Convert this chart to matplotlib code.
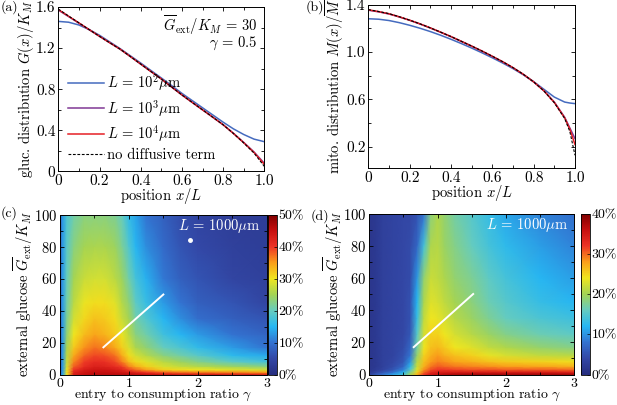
import numpy as np
import matplotlib
matplotlib.use('Agg')
import matplotlib.pyplot as plt
from matplotlib.colors import LinearSegmentedColormap

plt.rcParams['font.family'] = 'serif'
plt.rcParams['font.serif'] = ['cmr10', 'DejaVu Serif']
plt.rcParams['mathtext.fontset'] = 'cm'
plt.rcParams['axes.formatter.use_mathtext'] = True
FS = 11      # tick labels
LFS = 10.5   # axis labels and annotations
PFS = 10     # panel letters
plt.rcParams['font.size'] = FS

# ---- data: panel (a) glucose profiles
xs = [0, 0.05, 0.1, 0.15, 0.2, 0.25, 0.3, 0.35, 0.4, 0.45, 0.5,
      0.55, 0.6, 0.65, 0.7, 0.75, 0.8, 0.85, 0.9, 0.95, 1.0]
gluc_L100 = [1.46, 1.452, 1.425, 1.38, 1.325, 1.26, 1.195, 1.125, 1.055, 0.982, 0.91,
             0.836, 0.76, 0.69, 0.62, 0.55, 0.48, 0.415, 0.36, 0.315, 0.29]
gluc_L1000 = [1.57, 1.507, 1.443, 1.379, 1.315, 1.252, 1.19, 1.118, 1.045, 0.972, 0.90,
              0.822, 0.745, 0.672, 0.60, 0.528, 0.455, 0.372, 0.283, 0.19, 0.08]
gluc_L10000 = [1.575, 1.51, 1.445, 1.38, 1.315, 1.252, 1.19, 1.118, 1.045, 0.972, 0.90,
               0.822, 0.745, 0.672, 0.60, 0.528, 0.455, 0.37, 0.28, 0.185, 0.07]
gluc_nodiff = [1.58, 1.512, 1.446, 1.38, 1.315, 1.252, 1.19, 1.118, 1.045, 0.972, 0.90,
               0.822, 0.745, 0.672, 0.60, 0.528, 0.455, 0.37, 0.278, 0.18, 0.05]

# ---- data: panel (b) mitochondria profiles
xs_b = [0, 0.05, 0.1, 0.15, 0.2, 0.25, 0.3, 0.35, 0.4, 0.45, 0.5,
        0.55, 0.6, 0.65, 0.7, 0.75, 0.8, 0.85, 0.9, 0.95, 0.975, 1.0]
mito_L100 = [1.28, 1.276, 1.265, 1.247, 1.225, 1.2, 1.172, 1.141, 1.107, 1.071, 1.033,
             0.993, 0.951, 0.907, 0.86, 0.808, 0.75, 0.685, 0.62, 0.578, 0.57, 0.565]
mito_L1000 = [1.352, 1.338, 1.32, 1.295, 1.267, 1.236, 1.202, 1.166, 1.129, 1.089, 1.049,
              1.007, 0.963, 0.917, 0.867, 0.811, 0.748, 0.673, 0.578, 0.45, 0.36, 0.27]
mito_L10000 = [1.355, 1.34, 1.322, 1.296, 1.268, 1.237, 1.203, 1.167, 1.13, 1.09, 1.05,
               1.008, 0.964, 0.918, 0.868, 0.812, 0.748, 0.672, 0.575, 0.445, 0.35, 0.22]
mito_nodiff = [1.357, 1.341, 1.323, 1.297, 1.268, 1.237, 1.203, 1.167, 1.13, 1.09, 1.05,
               1.008, 0.964, 0.918, 0.868, 0.812, 0.748, 0.671, 0.572, 0.44, 0.33, 0.13]

# ---- data: heatmaps (values in %), rows = G_ext/K_M, columns = gamma
G_grid = [0, 1.5, 3, 5, 8, 12, 17, 25, 35, 45, 60, 80, 100]
gam_c = [0, 0.04, 0.1, 0.2, 0.35, 0.5, 0.65, 0.8, 0.9, 1.0, 1.1, 1.25, 1.5, 1.75, 2.0, 2.5, 3.0]
cols_c = [
    [10, 9, 8, 8, 8, 8, 8, 8, 8, 8, 8, 8, 8],
    [14, 13, 13, 13, 13, 13, 13, 13, 13, 13, 13, 13, 13],
    [30, 30, 29.5, 28.5, 27.5, 26.5, 25.5, 23.5, 22, 21, 20, 19, 18],
    [43, 42, 40, 38, 36, 34, 32, 30, 28, 26.5, 25, 23, 21],
    [45, 44, 43, 41, 39.5, 37.5, 35.5, 33, 31, 29.5, 27.5, 25, 23],
    [46, 45, 44, 42.5, 41, 39, 37, 34.5, 32.5, 30.5, 28, 25.5, 23],
    [46, 45, 44, 42, 40.5, 38.5, 36, 33.5, 32, 30.5, 28, 25.5, 23],
    [46, 44.5, 43, 41, 39, 37, 34, 32, 30.5, 29, 26.5, 24.5, 22],
    [46, 44, 42, 39.5, 36.5, 34, 31.5, 29.5, 27.5, 26, 24.5, 22, 20],
    [46, 43, 39.5, 36.5, 33, 30.5, 28.5, 26.5, 25, 23.5, 21, 18.5, 16],
    [45.5, 42, 37.5, 34, 31, 28, 25.5, 23, 21, 19.5, 17.5, 15, 13.5],
    [45, 40, 35, 31.5, 29, 26, 23.5, 21, 18.5, 16.5, 14.5, 12, 10],
    [44.5, 38, 31.5, 28.5, 26.5, 23, 20, 17, 15, 13, 10.5, 9, 8],
    [44, 37, 30.5, 27, 24.5, 21, 18, 15, 12, 10, 8, 6.5, 5.5],
    [44, 36.5, 30, 26, 22.5, 19, 16, 13, 9.5, 8, 6.5, 5.2, 4.3],
    [43.5, 36, 29, 24.5, 19.5, 15.5, 13, 10, 8, 6.5, 4.5, 3.8, 3.3],
    [43, 35, 28, 23, 17.5, 14, 10, 8.5, 6.5, 4.5, 3.8, 3.2, 3],
]
gam_d = [0, 0.1, 0.2, 0.35, 0.5, 0.6, 0.7, 0.8, 0.9, 1.0, 1.1, 1.25, 1.5, 1.75, 2.0, 2.5, 3.0]
cols_d = [
    [3, 2, 1.5, 1.5, 1.5, 1.5, 1.5, 1.5, 1.5, 1.5, 1.5, 1.5, 1.5],
    [6, 4, 2.5, 2, 2, 2, 2, 2, 2, 2, 2, 2, 2],
    [8, 5.5, 3.5, 3, 3, 3, 3, 3, 3, 3, 3, 3, 3],
    [11, 8, 5.5, 4.5, 4, 3.5, 3.5, 3.5, 3.5, 3.5, 3.5, 3.5, 3.5],
    [14, 12, 9, 7, 5.5, 5, 4.5, 4, 4, 4, 4, 4, 4],
    [20, 18, 15, 12.5, 10, 8, 7, 5.5, 5, 5, 4.5, 4.5, 4],
    [27, 25, 23, 22, 21, 19, 17, 15, 13, 12, 10, 7, 5],
    [32, 30, 28.5, 27, 26, 25, 24, 22.5, 21.5, 20.5, 19, 14, 8],
    [35, 33, 31, 29.5, 28, 27, 26, 25, 24, 23, 22, 20.5, 18.5],
    [36, 34, 32, 30.5, 29, 28, 26.5, 25, 23.5, 22.5, 21.5, 21, 20.5],
    [37, 34.5, 32, 30, 28.5, 27, 25.5, 24, 22.5, 21.5, 20.5, 19.5, 19],
    [37.5, 34.5, 31.5, 29.5, 27.5, 26, 24, 22.5, 21, 20, 19, 18, 17],
    [38, 34.5, 31, 29, 27, 25, 23, 21, 19.5, 18.5, 17.5, 16, 15],
    [38, 34.5, 31, 28.5, 26, 23.5, 21.5, 19.5, 17.5, 16.5, 15.5, 14, 13],
    [38, 34.5, 30.5, 28, 25.5, 22.5, 20.5, 18, 16, 15, 14, 12.5, 11],
    [38, 34.5, 30.5, 27.5, 25, 21.5, 19, 16.5, 14.5, 13, 12, 10.5, 9],
    [38, 34, 30, 27, 24.5, 21, 18, 15.5, 13.5, 12, 10.5, 9, 7.5],
]
# white guide lines and dot
line_c_gam, line_c_G = [0.63, 1.5], [17, 50]
line_d_gam, line_d_G = [0.65, 1.52], [17, 50]
dot_c_gam, dot_c_G = [1.88], [84]

cbar_ticks_c = [0, 10, 20, 30, 40, 50]
cbar_ticks_d = [0, 10, 20, 30, 40]

cmap = LinearSegmentedColormap.from_list('jetlike', [
    (0.0, (0.15, 0.18, 0.50)),
    (0.1, (0.20, 0.28, 0.65)),
    (0.2, (0.20, 0.45, 0.82)),
    (0.3, (0.15, 0.72, 0.95)),
    (0.4, (0.40, 0.80, 0.75)),
    (0.5, (0.64, 0.83, 0.33)),
    (0.6, (0.94, 0.90, 0.12)),
    (0.7, (0.98, 0.62, 0.10)),
    (0.8, (0.93, 0.20, 0.15)),
    (0.9, (0.78, 0.06, 0.06)),
    (1.0, (0.50, 0.0, 0.0))])

c_blue = (0.27, 0.42, 0.75)
c_purple = (0.50, 0.22, 0.58)
c_red = (0.90, 0.12, 0.15)

W, H = 617, 405
fig = plt.figure(figsize=(W / 100, H / 100), dpi=100)

def px_axes(l, t, r, b):
    return fig.add_axes([l / W, 1 - b / H, (r - l) / W, (b - t) / H])

def style(ax, size=FS):
    ax.tick_params(direction='in', which='both', top=True, right=True,
                   length=3, width=0.6, labelsize=size, pad=2)
    ax.tick_params(which='minor', length=2)
    for s in ax.spines.values():
        s.set_linewidth(0.7)

# (a)
ax = px_axes(58.3, 7, 264.3, 171.5)
ax.plot(xs, gluc_L100, color=c_blue, lw=1.1, label=r'$L\,=\,10^2\mu$m')
ax.plot(xs, gluc_L1000, color=c_purple, lw=1.1, label=r'$L\,=\,10^3\mu$m')
ax.plot(xs, gluc_L10000, color=c_red, lw=1.1, label=r'$L\,=\,10^4\mu$m')
ax.plot(xs, gluc_nodiff, color='k', lw=0.8, ls=(0, (2.5, 1.5)), label='no diffusive term')
ax.set_xlim(0, 1)
ax.set_ylim(0, 1.6)
ax.set_xticks(np.arange(0, 1.01, 0.2))
ax.set_xticklabels(['0', '0.2', '0.4', '0.6', '0.8', '1.0'])
ax.set_xticks(np.arange(0, 1.01, 0.1), minor=True)
ax.set_yticks([0, 0.4, 0.8, 1.2, 1.6])
ax.set_yticklabels(['0', '0.4', '0.8', '1.2', '1.6'])
ax.set_yticks(np.arange(0, 1.61, 0.2), minor=True)
style(ax)
ax.set_xlabel(r'position $x/L$', labelpad=-1.5, fontsize=LFS)
ax.set_ylabel(r'gluc. distribution $G(x)/K_M$', labelpad=0, fontsize=LFS)
ax.text(0.965, 0.89, r'$\overline{G}_{\rm ext}/K_M\,=\,30$', transform=ax.transAxes,
        ha='right', va='center', fontsize=LFS)
ax.text(0.965, 0.78, r'$\gamma\,=\,0.5$', transform=ax.transAxes,
        ha='right', va='center', fontsize=LFS)
ax.legend(loc='lower left', bbox_to_anchor=(0.0, 0.0), frameon=False,
          handlelength=2.5, handletextpad=0.2, labelspacing=0.3, borderaxespad=0.25,
          fontsize=LFS)
fig.text(0.5 / W, 1 - 7 / H, '(a)', ha='left', va='center', fontsize=PFS)

# (b)
ax = px_axes(368.3, 4.5, 575, 168.3)
ax.plot(xs_b, mito_L100, color=c_blue, lw=1.1)
ax.plot(xs_b, mito_L1000, color=c_purple, lw=1.1)
ax.plot(xs_b, mito_L10000, color=c_red, lw=1.1)
ax.plot(xs_b, mito_nodiff, color='k', lw=0.8, ls=(0, (2.5, 1.5)))
ax.set_xlim(0, 1)
ax.set_ylim(0.02, 1.4)
ax.set_xticks(np.arange(0, 1.01, 0.2))
ax.set_xticklabels(['0', '0.2', '0.4', '0.6', '0.8', '1.0'])
ax.set_xticks(np.arange(0, 1.01, 0.1), minor=True)
ax.set_yticks([0.2, 0.6, 1.0, 1.4])
ax.set_yticklabels(['0.2', '0.6', '1.0', '1.4'])
ax.set_yticks(np.arange(0.2, 1.41, 0.2), minor=True)
style(ax)
ax.set_xlabel(r'position $x/L$', labelpad=-1.5, fontsize=LFS)
ax.set_ylabel(r'mito. distribution $M(x)/\overline{M}$', labelpad=0, fontsize=LFS)
fig.text(306 / W, 1 - 7 / H, '(b)', ha='left', va='center', fontsize=PFS)


def heat(ax, cax, gam, cols, vmax, ticks, lg, lG):
    vals = np.array(cols).T
    mesh = ax.pcolormesh(gam, G_grid, vals, shading='gouraud', cmap=cmap,
                         vmin=0, vmax=vmax, rasterized=True)
    ax.plot(lg, lG, color='white', lw=1.4)
    ax.set_xlim(0, 3)
    ax.set_ylim(0, 100)
    ax.set_xticks([0, 1, 2, 3])
    ax.set_xticks(np.arange(0, 3.01, 0.5), minor=True)
    ax.set_yticks([0, 20, 40, 60, 80, 100])
    ax.set_yticks(np.arange(0, 101, 10), minor=True)
    style(ax, 10.5)
    ax.tick_params(axis='x', pad=1.5, labelsize=10)
    ax.text(0.97, 0.93, r'$L\,=\,1000\mu$m', color='white', transform=ax.transAxes,
            ha='right', va='center', fontsize=LFS)
    ax.set_xlabel(r'entry to consumption ratio $\gamma$', labelpad=-1, fontsize=10)
    ax.set_ylabel(r'external glucose $\overline{G}_{\rm ext}/K_M$', labelpad=-1, fontsize=LFS)
    cb = fig.colorbar(mesh, cax=cax, ticks=ticks)
    cb.ax.set_yticklabels([f'{t}%' for t in ticks])
    cb.ax.tick_params(direction='in', length=2, width=0.5, labelsize=10, pad=1)
    cb.outline.set_linewidth(0.6)
    return ax

# (c)
ax = px_axes(60, 214.5, 266.7, 374.5)
cax = px_axes(268.3, 214.5, 277, 374.5)
heat(ax, cax, gam_c, cols_c, 50, cbar_ticks_c, line_c_gam, line_c_G)
ax.plot(dot_c_gam, dot_c_G, 'o', color='white', ms=2.5)
fig.text(0.5 / W, 1 - 213 / H, '(c)', ha='left', va='center', fontsize=PFS)

# (d)
ax = px_axes(369.3, 213.5, 574.3, 374.5)
cax = px_axes(581, 213.5, 590, 374.5)
heat(ax, cax, gam_d, cols_d, 40, cbar_ticks_d, line_d_gam, line_d_G)
fig.text(311 / W, 1 - 216 / H, '(d)', ha='left', va='center', fontsize=PFS)

fig.savefig('out.png', dpi=100)
